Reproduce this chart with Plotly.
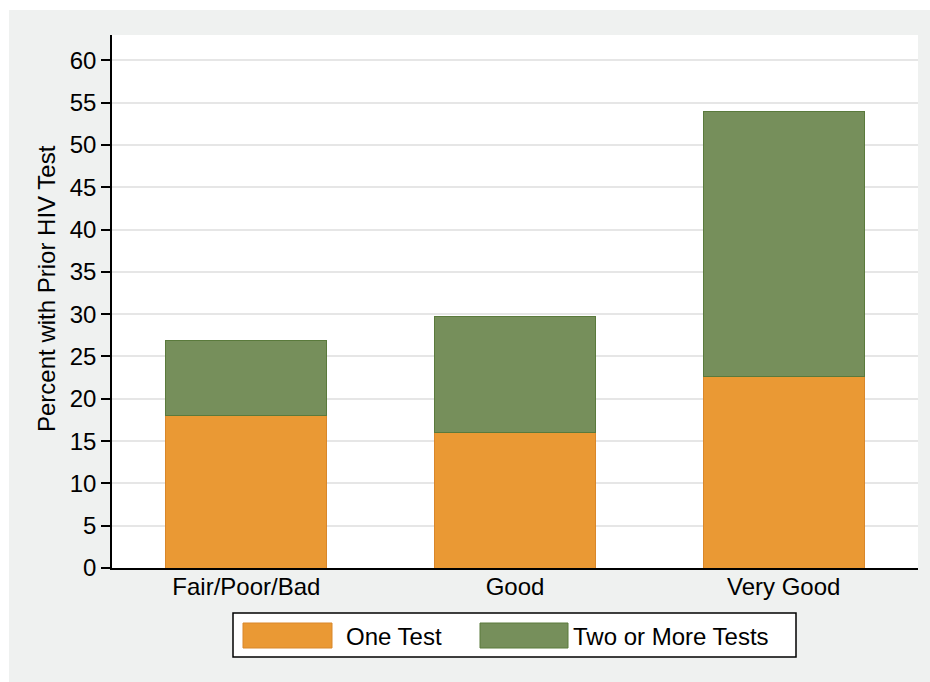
import plotly.graph_objects as go

categories = ["Fair/Poor/Bad", "Good", "Very Good"]
one_test = [18.0, 16.0, 22.6]
two_or_more = [8.9, 13.7, 31.4]
y_ticks = list(range(0, 61, 5))
series_names = ["One Test", "Two or More Tests"]
y_title = "Percent with Prior HIV Test"

ORANGE = "#EA9934"
ORANGE_LINE = "#D9872A"
GREEN = "#768F5B"
GREEN_LINE = "#5A7A3C"
BG = "#EFF1F0"
FONT = "Liberation Sans, Arial, sans-serif"
FS = 24

# The page body margin is removed below, so the figure sits at (0, 0).
OFF = 0
W, H = 930, 682
# plot-area geometry in page pixels
L, R, T, B = 112, 918, 35, 568

def px(x):
    return (x - L) / (R - L)
def py(y):
    return (B - y) / (B - T)

fig = go.Figure()
fig.add_trace(go.Bar(x=categories, y=one_test, name=series_names[0],
                     marker=dict(color=ORANGE, line=dict(color=ORANGE_LINE, width=1)),
                     showlegend=False))
fig.add_trace(go.Bar(x=categories, y=two_or_more, name=series_names[1],
                     marker=dict(color=GREEN, line=dict(color=GREEN_LINE, width=1)),
                     showlegend=False))

shapes = [
    # white outer strips (top / left) so the gray frame starts where the reference does
    dict(type="rect", xref="paper", yref="paper", x0=px(-5), x1=px(945), y0=py(10), y1=py(-5),
         fillcolor="white", line=dict(width=0), layer="above"),
    dict(type="rect", xref="paper", yref="paper", x0=px(-5), x1=px(9), y0=py(700), y1=py(-5),
         fillcolor="white", line=dict(width=0), layer="above"),
    # legend box
    dict(type="rect", xref="paper", yref="paper", x0=px(233), x1=px(796), y0=py(657), y1=py(613),
         fillcolor="white", line=dict(color="black", width=1.5), layer="above"),
    dict(type="rect", xref="paper", yref="paper", x0=px(243), x1=px(332), y0=py(648), y1=py(623),
         fillcolor=ORANGE, line=dict(color=ORANGE_LINE, width=1), layer="above"),
    dict(type="rect", xref="paper", yref="paper", x0=px(480), x1=px(568), y0=py(648), y1=py(623),
         fillcolor=GREEN, line=dict(color=GREEN_LINE, width=1), layer="above"),
]
annotations = [
    dict(text=series_names[0], xref="paper", yref="paper", x=px(344), y=py(636),
         xanchor="left", yanchor="middle", showarrow=False, font=dict(size=FS, color="black")),
    dict(text=series_names[1], xref="paper", yref="paper", x=px(571), y=py(636),
         xanchor="left", yanchor="middle", showarrow=False, font=dict(size=FS, color="black")),
    dict(text=y_title, xref="paper", yref="paper", x=px(46), y=py(289), textangle=-90,
         xanchor="center", yanchor="middle", showarrow=False, font=dict(size=FS, color="black")),
]

fig.update_layout(
    barmode="stack",
    bargap=0.4,
    width=W, height=H,
    margin=dict(l=L - OFF, r=W - (R - OFF), t=T - OFF, b=H - (B - OFF), pad=0),
    paper_bgcolor=BG,
    plot_bgcolor="white",
    font=dict(family=FONT, size=FS, color="black"),
    shapes=shapes,
    annotations=annotations,
    xaxis=dict(
        showline=True, linecolor="black", linewidth=1.5,
        ticks="", showgrid=False, ticklabelstandoff=-4,
        tickfont=dict(size=FS),
    ),
    yaxis=dict(
        range=[0, 63], tickvals=y_ticks, ticktext=[str(v) for v in y_ticks],
        showline=True, linecolor="black", linewidth=1.5,
        ticks="outside", ticklen=9, tickcolor="black", tickwidth=1.5,
        showgrid=True, gridcolor="#E6E6E6", gridwidth=2,
        zeroline=False,
        tickfont=dict(size=FS),
    ),
)

fig.write_html(
    "out.html",
    config={"displayModeBar": False},
    post_script=(
        "document.documentElement.style.overflow='hidden';"
        "document.body.style.margin='0';document.body.style.overflow='hidden';"
    ),
)
